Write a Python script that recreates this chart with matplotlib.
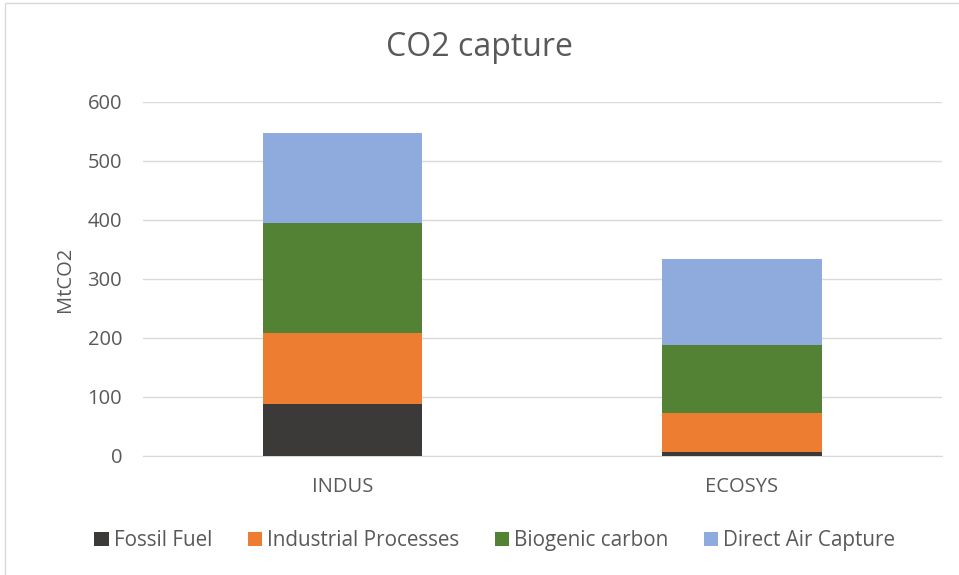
import numpy as np
import matplotlib.pyplot as plt
from matplotlib.patches import Rectangle

# Data
scenarios = ['INDUS', 'ECOSYS']
fossil_fuel = [88, 6]
industrial = [120, 66]
biogenic = [187, 116]
direct_air = [152, 146]

series = [
    ('Fossil Fuel', fossil_fuel, '#3b3a39'),
    ('Industrial Processes', industrial, '#ed7d31'),
    ('Biogenic carbon', biogenic, '#548235'),
    ('Direct Air Capture', direct_air, '#8faadc'),
]

plt.rcParams['font.family'] = ['Open Sans', 'DejaVu Sans']
text_col = '#595959'

fig = plt.figure(figsize=(9.59, 5.75), dpi=100)
ax = fig.add_axes([0.149, 0.207, 0.833, 0.616])

x = np.arange(len(scenarios))
bottom = np.zeros(len(scenarios))
for name, vals, col in series:
    ax.bar(x, vals, width=0.4, bottom=bottom, color=col, label=name, zorder=3)
    bottom += np.array(vals)

ax.set_xlim(-0.5, 1.5)
ax.set_ylim(0, 600)
ax.set_yticks(range(0, 601, 100))
ax.set_xticks(x)
ax.set_xticklabels(scenarios)
ax.grid(axis='y', color='#d9d9d9', linewidth=1, zorder=0)
for s in ['top', 'right', 'left']:
    ax.spines[s].set_visible(False)
ax.spines['bottom'].set_color('#d9d9d9')
ax.tick_params(axis='both', length=0, labelsize=14.5, colors=text_col)
ax.tick_params(axis='y', pad=15)
ax.tick_params(axis='x', pad=15)
ax.set_ylabel('MtCO2', fontsize=14.5, color=text_col, labelpad=9)

fig.text(0.5, 0.918, 'CO2 capture', ha='center', va='center', fontsize=23, color=text_col)

leg = fig.legend(loc='center', bbox_to_anchor=(0.516, 0.06), ncol=4, frameon=False,
                 fontsize=14.9, handlelength=0.7, handleheight=0.7, handletextpad=0.25,
                 columnspacing=1.7)
for t in leg.get_texts():
    t.set_color(text_col)

# chart border
fig.patches.append(Rectangle((0.005, -0.01), 1.2, 1.005, transform=fig.transFigure,
                             fill=False, edgecolor='#d9d9d9', linewidth=1))

fig.savefig('out.png', dpi=100)
